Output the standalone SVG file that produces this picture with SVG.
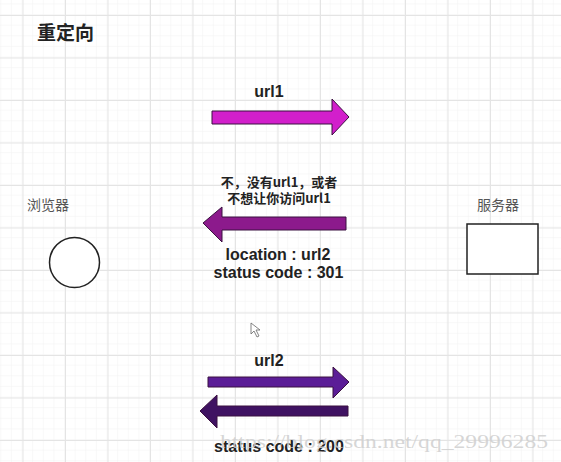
<svg xmlns="http://www.w3.org/2000/svg" width="561" height="462" viewBox="0 0 561 462">
  <defs>
    <pattern id="minor" x="1.25" y="4.375" width="10.625" height="10.625" patternUnits="userSpaceOnUse">
      <path d="M10.625 0V10.625M0 10.625H10.625" fill="none" stroke="#f2f2f2" stroke-width="1"/>
    </pattern>
    <pattern id="major" x="22.5" y="15" width="42.5" height="42.5" patternUnits="userSpaceOnUse">
      <path d="M0.5 0V42.5M0 0.5H42.5" fill="none" stroke="#e4e4e4" stroke-width="1"/>
    </pattern>
    <style>
      .lbl { font-family: "Liberation Sans", Arial, sans-serif; font-weight: bold; font-size: 16px; fill: #222; }
      .cjk { font-family: "Noto Sans CJK SC", sans-serif; font-weight: bold; fill: #222; }
      .name { font-family: "Noto Sans CJK SC", sans-serif; font-size: 14px; fill: #555; }
      .arrow { stroke: #3a1040; stroke-width: 1; stroke-linejoin: miter; }
      .node { fill: #fff; stroke: #222; stroke-width: 1.5; }
    </style>
  </defs>
  <rect width="561" height="462" fill="#fff"/>
  <rect width="561" height="462" fill="url(#minor)"/>
  <rect width="561" height="462" fill="url(#major)"/>

  <text class="cjk" x="37" y="40" font-size="19">重定向</text>

  <g id="browser">
    <text class="name" x="27" y="210">浏览器</text>
    <circle class="node" cx="74.5" cy="262.5" r="25"/>
  </g>
  <g id="server">
    <text class="name" x="477" y="210">服务器</text>
    <rect class="node" x="467" y="224" width="71" height="50"/>
  </g>

  <g id="connectors">
    <g id="req1">
      <polygon class="arrow" fill="#d21fcb" points="212,111 332,111 332,99 349,117 332,135 332,124 212,124"/>
      <text class="lbl" x="269" y="97" text-anchor="middle">url1</text>
    </g>
    <g id="resp1">
      <polygon class="arrow" fill="#8c1a8c" points="346,217 222,217 222,207 203,223 222,242 222,230 346,230"/>
      <text class="cjk" x="279" y="187" font-size="13" text-anchor="middle">不，没有url1，或者</text>
      <text class="cjk" x="279" y="203" font-size="13" text-anchor="middle">不想让你访问url1</text>
      <text class="lbl" x="278" y="260" text-anchor="middle">location : url2</text>
      <text class="lbl" x="278.5" y="278" text-anchor="middle">status code : 301</text>
    </g>
    <g id="req2">
      <polygon class="arrow" fill="#5b1d97" points="208,377 333,377 333,367 349,382 333,398 333,387 208,387"/>
      <text class="lbl" x="269" y="366" text-anchor="middle">url2</text>
    </g>
    <g id="resp2">
      <polygon class="arrow" fill="#3f1262" points="348,406 217,406 217,395 200,411 217,428 217,416 348,416"/>
      <text class="lbl" x="279" y="452" text-anchor="middle">status code : 200</text>
    </g>
  </g>

  <text x="220" y="448" font-family="Liberation Serif, serif" font-size="19" fill="#cfcfcf" fill-opacity="0.85" textLength="328" lengthAdjust="spacingAndGlyphs">https://blog.csdn.net/qq_29996285</text>

  <polygon points="251,323 251,334 254,331 257,337 259,336 256,330 260,330" fill="#fff" stroke="#666" stroke-width="0.8"/>
</svg>
